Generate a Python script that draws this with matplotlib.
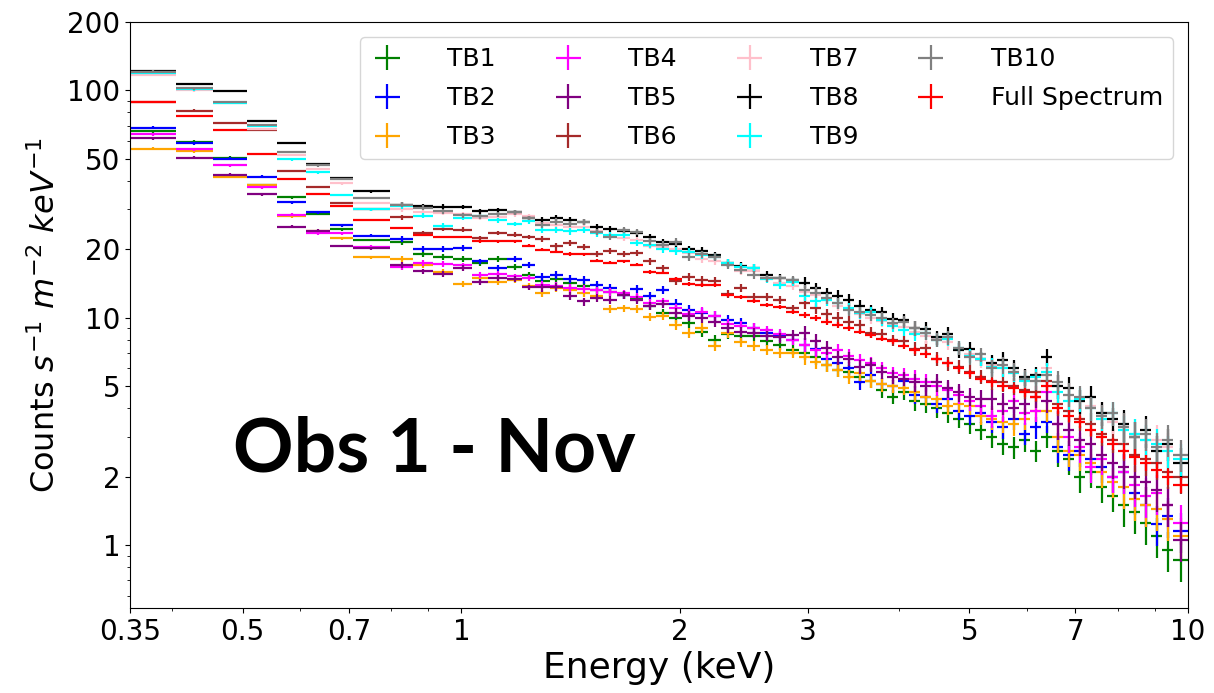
import matplotlib
matplotlib.use('Agg')
import matplotlib.pyplot as plt
from matplotlib.ticker import FixedLocator, NullFormatter
import numpy as np

# energy bin edges (keV), shared by every spectrum
edges = [0.35, 0.405, 0.455, 0.507, 0.558, 0.611, 0.660, 0.709, 0.798,
         0.858, 0.914, 0.974, 1.035, 1.088, 1.156, 1.212, 1.263, 1.324,
         1.380, 1.443, 1.504, 1.567, 1.638, 1.707, 1.779, 1.853, 1.931,
         2.013, 2.098, 2.185, 2.277, 2.373, 2.473, 2.577, 2.685, 2.798,
         2.916, 3.019, 3.127, 3.238, 3.352, 3.471, 3.594, 3.721, 3.853,
         3.990, 4.132, 4.279, 4.431, 4.588, 4.751, 4.918, 5.093, 5.274,
         5.462, 5.656, 5.855, 6.064, 6.277, 6.500, 6.731, 6.969, 7.217,
         7.473, 7.739, 8.013, 8.298, 8.593, 8.898, 9.213, 9.538, 10.0]

tb1 = [66, 59.5, 50.5, 38.2, 33.9, 28.7, 24.5, 22.0, 21.5, 19.0, 18.5, 18.1,
       17.4, 18.1, 16.8, 15.5, 14.5, 14.8, 14.2, 13.8, 13.3, 13.0, 12.6, 12.2,
       11.3, 10.5, 10.0, 9.5, 8.7, 8.0, 8.5, 8.3, 8.3, 7.9, 7.6, 7.2,
       7.0, 6.7, 6.2, 5.9, 5.8, 5.5, 5.3, 4.8, 4.5, 4.7, 4.3, 4.2, 4.0, 3.8,
       3.6, 3.4, 3.2, 3.0, 2.8, 2.7, 2.9, 2.6, 3.0, 2.6, 2.4, 2.0, 2.1, 1.8,
       1.64, 1.5, 1.4, 1.25, 1.1, 0.95, 0.86]
tb2 = [68.7, 58.5, 50, 41.8, 32.2, 29.1, 25.5, 23.0, 22.2, 20.1, 20.0, 20.3,
       17.7, 16.5, 18.1, 17.1, 15.1, 15.4, 14.8, 14.7, 14.0, 13.5, 12.6, 13.4,
       12.5, 13.3, 11.5, 10.8, 10.5, 10.2, 9.8, 9.5, 9.0, 8.6, 8.3, 8.0,
       7.6, 7.3, 6.6, 6.3, 6.0, 5.2, 5.6, 5.1, 5.0, 5.3, 4.6, 4.5, 4.2, 4.4,
       3.9, 3.7, 3.8, 3.5, 3.3, 3.6, 3.1, 3.3, 3.5, 2.7, 2.5, 2.6, 2.4, 2.2,
       2.0, 2.1, 1.7, 1.5, 1.24, 1.35, 1.15]
tb3 = [55.4, 54, 41.8, 38.2, 28.0, 24.0, 22.4, 18.5, 18.1, 17.0, 15.9, 14.1,
       15.0, 14.4, 14.6, 13.8, 12.8, 13.5, 13.3, 12.8, 12.5, 10.9, 11.0, 10.9,
       10.1, 10.2, 9.3, 8.6, 9.0, 7.5, 8.6, 7.8, 7.5, 7.2, 7.0, 7.0,
       6.7, 6.4, 6.2, 5.9, 5.5, 5.7, 5.3, 5.1, 5.0, 4.9, 4.7, 4.5, 4.4, 4.1,
       4.2, 4.1, 3.7, 3.6, 3.5, 3.4, 3.6, 3.9, 3.9, 3.0, 2.6, 2.5, 2.3, 2.1,
       1.9, 1.8, 1.6, 1.5, 1.45, 1.3, 1.1]
tb4 = [64.2, 55, 46.8, 37.5, 28.4, 23.6, 23.5, 20.5, 16.7, 17.4, 17.3, 17.0,
       15.4, 15.6, 15.2, 15.0, 14.0, 13.8, 13.5, 13.4, 13.2, 13.0, 12.8, 12.4,
       11.6, 11.8, 11.0, 10.4, 10.6, 10.2, 9.4, 9.2, 9.0, 8.8, 8.5, 8.0,
       7.6, 7.2, 7.0, 7.2, 6.8, 6.5, 6.3, 6.0, 5.7, 5.6, 5.4, 5.2, 5.0, 4.8,
       4.6, 4.3, 4.1, 3.7, 3.9, 4.3, 3.8, 3.9, 4.7, 3.4, 3.0, 2.7, 2.2, 2.4,
       2.0, 2.1, 1.85, 1.64, 1.7, 1.5, 1.25]
tb5 = [61.6, 50.5, 42.5, 34.9, 25.1, 24.2, 20.7, 20.2, 17.1, 16.0, 15.6, 16.6,
       14.4, 15.0, 14.8, 13.6, 13.6, 13.7, 12.5, 11.8, 12.2, 12.0, 12.6, 12.0,
       11.3, 11.5, 10.5, 10.2, 10.0, 9.6, 9.0, 8.7, 8.6, 8.3, 8.2, 8.4,
       8.6, 7.9, 7.4, 6.7, 6.6, 6.1, 6.2, 5.8, 5.5, 5.4, 5.2, 5.0, 5.2, 4.9,
       4.7, 4.5, 4.4, 4.4, 4.2, 4.0, 4.2, 4.5, 4.3, 3.4, 3.2, 2.9, 2.8, 2.5,
       2.3, 2.2, 2.0, 1.9, 1.75, 1.5, 1.05]
tb6 = [89, 81.5, 72, 67, 44.1, 37.5, 31.9, 30.0, 27.7, 23.6, 24.6, 24.4,
       22.4, 23.6, 23.2, 22.7, 22.2, 20.6, 21.3, 20.5, 19.1, 19.7, 19.1, 19.3,
       17.7, 16.6, 14.5, 15.1, 14.7, 14.5, 12.7, 13.5, 12.4, 12.4, 12.0, 11.0,
       11.6, 11.0, 10.4, 10.0, 9.6, 9.3, 8.6, 8.5, 8.0, 7.9, 7.3, 7.4, 6.6, 6.3,
       6.1, 5.8, 5.5, 5.3, 5.2, 5.0, 4.8, 4.7, 5.3, 4.2, 3.9, 3.6, 3.4, 3.1,
       2.9, 2.8, 2.5, 2.4, 2.3, 2.1, 2.0]
tb7 = [117, 100, 88, 67.8, 52, 45, 39, 32, 30, 29.1, 29.0, 28.5,
       27.5, 27.8, 28.5, 28.0, 26.0, 25.5, 25.0, 25.2, 24.0, 23.0, 22.5, 22.0,
       20.8, 20.5, 20.0, 19.2, 18.2, 17.8, 17.2, 16.0, 16.0, 15.0, 14.2, 13.8,
       13.0, 12.6, 12.0, 11.3, 10.9, 10.4, 10.0, 9.7, 9.4, 9.1, 8.7, 8.3, 8.1, 7.8,
       7.3, 6.9, 6.5, 6.2, 6.0, 5.8, 5.5, 5.3, 6.0, 5.0, 4.6, 4.3, 4.1, 3.8,
       3.5, 3.3, 3.1, 2.9, 2.9, 2.7, 2.5]
tb8 = [122, 107, 99.7, 73.3, 58.9, 47.5, 41, 36, 31.5, 30.9, 30.8, 30.7,
       29.4, 29.7, 29.1, 27.5, 27.0, 27.5, 26.9, 26.4, 25.0, 24.6, 24.0, 23.5,
       22.7, 21.5, 21.1, 20.0, 19.7, 18.8, 17.4, 16.9, 16.6, 15.5, 15.0, 14.6,
       14.3, 13.5, 12.8, 12.5, 12.0, 11.3, 10.8, 10.6, 9.9, 9.8, 9.0, 8.9, 8.2, 8.5,
       7.2, 7.3, 6.6, 6.3, 6.5, 6.0, 5.5, 5.6, 6.7, 5.0, 4.9, 4.3, 4.5, 3.8,
       3.6, 3.4, 3.0, 3.2, 2.6, 2.8, 2.3]
tb9 = [119, 101, 88, 70, 49.7, 43.6, 34.7, 30.0, 31.0, 28.1, 25.4, 27.5,
       28.0, 26.9, 25.9, 26.6, 24.4, 24.4, 24.0, 24.4, 23.5, 23.2, 23.2, 21.3,
       21.0, 20.0, 19.7, 19.5, 18.9, 18.5, 17.4, 16.8, 16.6, 14.8, 14.0, 14.4,
       12.5, 11.8, 12.0, 11.6, 11.0, 10.5, 10.6, 9.8, 9.2, 8.85, 8.5, 8.6, 8.0, 8.1,
       7.4, 6.8, 6.6, 6.1, 6.0, 5.7, 5.3, 5.5, 5.8, 4.7, 4.3, 4.4, 4.0, 3.6,
       3.8, 3.2, 3.1, 2.9, 2.8, 2.6, 2.4]
tb10 = [121, 102, 89, 70.5, 53.7, 46.8, 40.9, 33.6, 31.5, 30.5, 29.4, 28.2,
        28.0, 28.5, 29.1, 27.5, 25.7, 26.5, 25.9, 26.4, 23.9, 22.7, 24.4, 23.9,
        21.7, 21.0, 21.5, 18.6, 19.0, 18.5, 17.0, 16.3, 15.5, 14.9, 14.9, 14.7,
        13.2, 12.9, 12.2, 11.6, 10.8, 10.6, 10.3, 10.0, 9.5, 9.6, 9.0, 8.6, 8.0, 8.2,
        7.4, 6.7, 6.9, 6.0, 6.2, 5.8, 5.4, 5.3, 5.6, 5.2, 4.6, 4.5, 4.0, 3.7,
        3.8, 3.3, 3.0, 3.1, 2.7, 2.9, 2.5]
full = [89, 77, 66.8, 52.6, 40.9, 35.2, 30.9, 26.9, 24.8, 23.2, 22.7, 22.7,
        21.7, 21.7, 21.7, 20.8, 19.9, 19.5, 19.1, 19.0, 17.8, 17.5, 17.7, 17.1,
        15.9, 15.8, 14.8, 14.1, 14.0, 13.9, 12.6, 12.4, 11.9, 11.4, 11.2, 10.6,
        10.3, 10.0, 9.6, 9.3, 9.0, 8.7, 8.4, 8.1, 7.9, 7.5, 7.2, 6.9, 6.6, 6.3,
        6.0, 5.7, 5.4, 5.2, 5.0, 4.9, 4.7, 4.5, 5.0, 4.0, 3.7, 3.5, 3.2, 3.0,
        2.8, 2.6, 2.45, 2.3, 2.15, 2.0, 1.85]

# relative 1-sigma error per bin for the faint (TB1-TB5) spectra
rel_err = ([0.015] * 8 + [0.03] * 8 + [0.04] * 10 + [0.05] * 10 +
           [0.07] * 10 + [0.09] * 7 + [0.11] * 6 + [0.15] * 6 + [0.2] * 6)

series = [('TB1', tb1, 'green', 1.0), ('TB2', tb2, 'blue', 1.0),
          ('TB3', tb3, 'orange', 1.0), ('TB4', tb4, 'magenta', 1.0),
          ('TB5', tb5, 'purple', 1.0), ('TB6', tb6, 'brown', 0.8),
          ('TB7', tb7, 'pink', 0.8), ('TB8', tb8, 'black', 0.8),
          ('TB9', tb9, 'cyan', 0.8), ('TB10', tb10, 'gray', 0.8),
          ('Full Spectrum', full, 'red', 0.4)]

e = np.array(edges)
x = np.sqrt(e[:-1] * e[1:])
xerr = [x - e[:-1], e[1:] - x]

fig = plt.figure(figsize=(12.14, 6.93), dpi=100)
ax = fig.add_axes([0.1071, 0.1227, 0.8715, 0.8456])

for name, vals, col, scale in series:
    y = np.array(vals)
    yerr = y * np.array(rel_err) * scale
    ax.errorbar(x, y, xerr=xerr, yerr=yerr, ls='none', color=col,
                elinewidth=1.6, label=name)

ax.set_xscale('log')
ax.set_yscale('log')
ax.set_xlim(0.35, 10)
ax.set_ylim(0.53, 200)

xt = [0.35, 0.5, 0.7, 1, 2, 3, 5, 7, 10]
ax.xaxis.set_major_locator(FixedLocator(xt))
ax.set_xticklabels(['0.35', '0.5', '0.7', '1', '2', '3', '5', '7', '10'])
ax.xaxis.set_minor_formatter(NullFormatter())
yt = [1, 2, 5, 10, 20, 50, 100, 200]
ax.yaxis.set_major_locator(FixedLocator(yt))
ax.set_yticklabels([str(v) for v in yt])
ax.yaxis.set_minor_formatter(NullFormatter())
ax.tick_params(labelsize=20)

ax.set_xlabel('Energy (keV)', fontsize=26)
ax.set_ylabel(r'Counts $s^{-1}$ $m^{-2}$ $keV^{-1}$', fontsize=23)

ax.legend(ncol=4, fontsize=18, loc='upper right',
          bbox_to_anchor=(0.9975, 0.995), handlelength=1.4,
          handletextpad=1.7, columnspacing=2.2, labelspacing=0.6)

fig.text(0.358, 0.351, 'Obs 1 - Nov', family='Lato', weight='bold',
         fontsize=54, ha='center', va='center')

fig.savefig('out.png', dpi=100)
